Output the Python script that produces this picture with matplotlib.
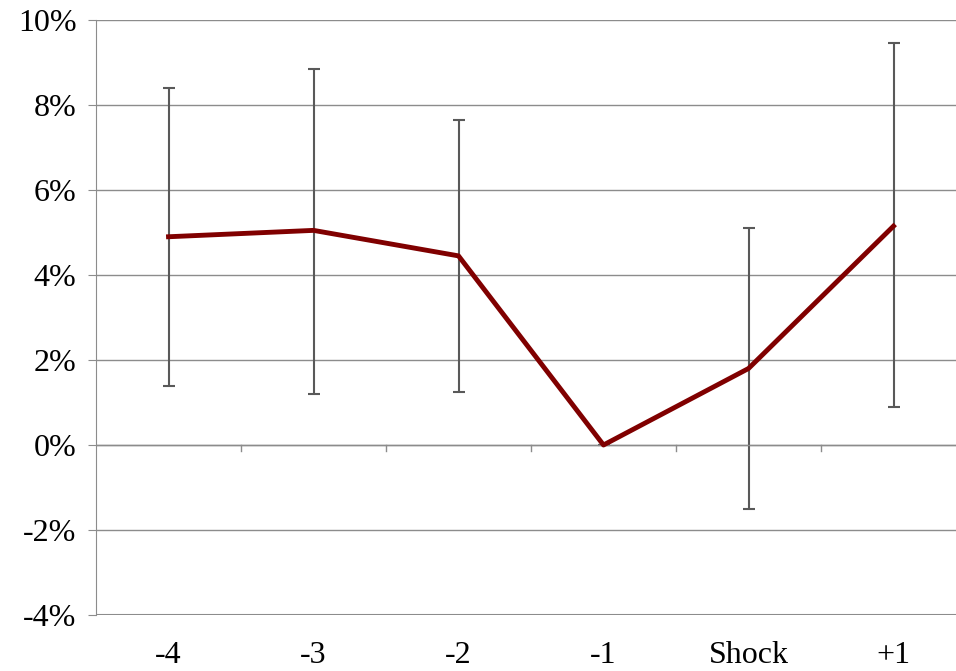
import matplotlib
matplotlib.use("Agg")
import matplotlib.pyplot as plt
from matplotlib.ticker import FuncFormatter

cats = ["-4", "-3", "-2", "-1", "Shock", "+1"]
vals = [4.9, 5.05, 4.45, 0.0, 1.8, 5.15]
lo = [1.4, 1.2, 1.25, 0.0, -1.5, 0.9]
hi = [8.4, 8.85, 7.65, 0.0, 5.1, 9.45]

plt.rcParams['font.family'] = ['Liberation Serif', 'DejaVu Serif']
fig = plt.figure(figsize=(9.56, 6.71), dpi=100)
ax = fig.add_axes([96/956, 1-615/671, (956-96)/956, (615-20)/671])
x = list(range(len(cats)))
yerr = [[v - l for v, l in zip(vals, lo)], [h - v for v, h in zip(vals, hi)]]
ax.errorbar(x, vals, yerr=yerr, fmt='none', ecolor='#595959', elinewidth=1.5, capsize=4, capthick=1.5, zorder=2)
ax.plot(x, vals, color='#800000', lw=3.5, zorder=3)
ax.set_ylim(-4, 10)
ax.set_xlim(-0.5, 5.5 - 10/145)
ax.set_yticks(range(-4, 11, 2))
ax.yaxis.set_major_formatter(FuncFormatter(lambda v, p: f"{v:.0f}%"))
ax.grid(axis='y', color='#8c8c8c', lw=1)
ax.set_axisbelow(True)
for s in ['top', 'right', 'bottom']:
    ax.spines[s].set_visible(False)
ax.spines['left'].set_color('#8c8c8c')
ax.tick_params(axis='y', length=6, color='#8c8c8c', labelsize=23, direction='out', pad=8)
ax.set_xticks([])
ax.axhline(0, color='#8c8c8c', lw=1)
ax.axhline(-4, color='#8c8c8c', lw=1.5)
for i in range(1, 6):
    ax.plot([i - 0.5, i - 0.5], [0, -0.15], color='#8c8c8c', lw=1, clip_on=False)
for i, c in enumerate(cats):
    ax.text(i, -4.95, c, ha='center', va='center', fontsize=23)
fig.savefig("out.png", dpi=100)
